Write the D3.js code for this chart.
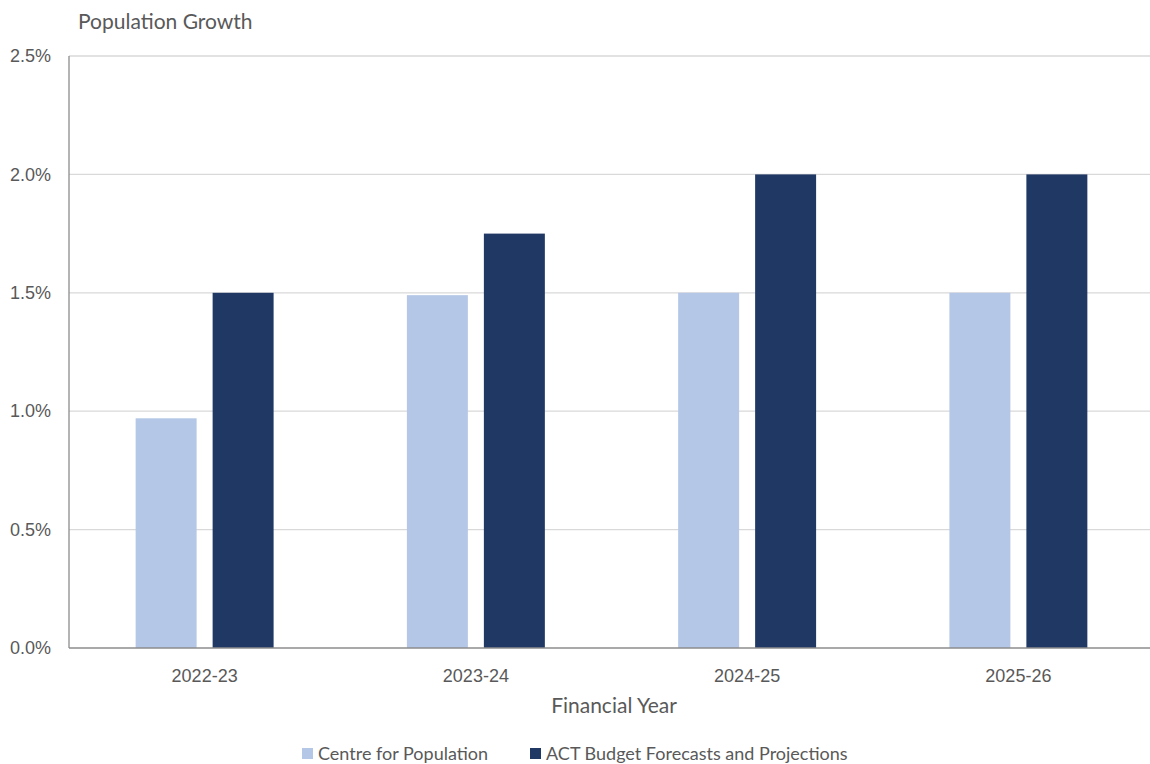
<!DOCTYPE html>
<html>
<head>
<meta charset="utf-8">
<script src="https://cdn.jsdelivr.net/npm/d3@7"></script>
<style>
  html, body { margin: 0; padding: 0; background: #fff; overflow: hidden; }
  svg { display: block; font-family: Lato, "Open Sans", sans-serif; }
</style>
</head>
<body>
<svg id="chart" width="1150" height="764"></svg>
<script>
// Financial years on the x axis
const years = ["2022-23", "2023-24", "2024-25", "2025-26"];
// Annual population growth, per cent
const centreForPopulation = [0.97, 1.49, 1.50, 1.50];
const actBudget = [1.50, 1.75, 2.00, 2.00];
const seriesNames = ["Centre for Population", "ACT Budget Forecasts and Projections"];
const seriesColors = ["#b4c7e7", "#203864"];
const yTicks = [0, 0.5, 1.0, 1.5, 2.0, 2.5];

const svg = d3.select("#chart");
const W = 1150, H = 764;
// plot area runs slightly past the right edge of the canvas
const x0 = 69, x1 = 1154;
const y0 = 648, y1 = 56;

const x = d3.scaleBand().domain(years).range([x0, x1]).paddingInner(0).paddingOuter(0);
const y = d3.scaleLinear().domain([0, 2.5]).range([y0, y1]);

// Gridlines
svg.append("g")
  .selectAll("line")
  .data(yTicks.filter(d => d > 0))
  .join("line")
  .attr("x1", x0).attr("x2", x1)
  .attr("y1", d => y(d)).attr("y2", d => y(d))
  .attr("stroke", "#d9d9d9").attr("stroke-width", 1.3);

// Y axis labels
const yAxis = d3.axisLeft(y).tickValues(yTicks).tickFormat(d => d.toFixed(1) + "%").tickSize(0).tickPadding(18);
const gy = svg.append("g").attr("transform", `translate(${x0},0)`).call(yAxis);
gy.select(".domain").remove();
gy.selectAll("text").attr("font-size", 18).attr("fill", "#595959");

// Bars: two series per year
const barW = x.bandwidth() * 0.2248;
const gap = 16;
const series = [centreForPopulation, actBudget];
series.forEach((vals, si) => {
  svg.append("g")
    .selectAll("rect")
    .data(years.map((yr, i) => ({ yr, v: vals[i] })))
    .join("rect")
    .attr("x", d => x(d.yr) + x.bandwidth() / 2 + (si === 0 ? -gap / 2 - barW : gap / 2))
    .attr("width", barW)
    .attr("y", d => y(d.v))
    .attr("height", d => y(0) - y(d.v))
    .attr("fill", seriesColors[si]);
});

// Axis lines
svg.append("line").attr("x1", x0).attr("x2", x0).attr("y1", y1).attr("y2", y0)
  .attr("stroke", "#8c8c8c").attr("stroke-width", 1.3);
svg.append("line").attr("x1", x0).attr("x2", x1).attr("y1", y0).attr("y2", y0)
  .attr("stroke", "#8c8c8c").attr("stroke-width", 1.3);

// X axis labels
const xAxis = d3.axisBottom(x).tickSize(0).tickPadding(21);
const gx = svg.append("g").attr("transform", `translate(0,${y0})`).call(xAxis);
gx.select(".domain").remove();
gx.selectAll("text").attr("font-size", 18).attr("fill", "#595959");

// Titles
svg.append("text").attr("x", 78).attr("y", 29).attr("font-size", 21).attr("fill", "#595959")
  .text("Population Growth");
svg.append("text").attr("x", 614).attr("y", 713).attr("text-anchor", "middle")
  .attr("font-size", 21).attr("fill", "#595959").text("Financial Year");

// Legend
const legendX = [302, 530];
const lg = svg.append("g");
seriesNames.forEach((name, i) => {
  lg.append("rect").attr("x", legendX[i]).attr("y", 748).attr("width", 11).attr("height", 11)
    .attr("fill", seriesColors[i]);
  lg.append("text").attr("x", legendX[i] + 16).attr("y", 760).attr("font-size", 18)
    .attr("fill", "#595959").text(name);
});
</script>
</body>
</html>
